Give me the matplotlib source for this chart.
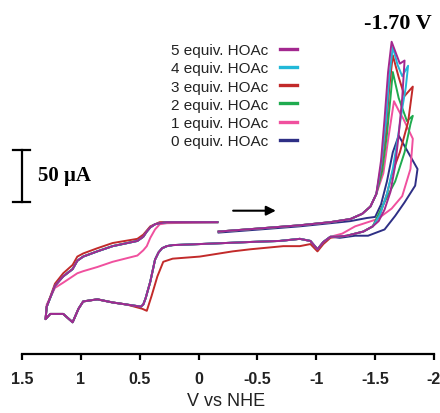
import matplotlib
matplotlib.use('Agg')
import matplotlib.pyplot as plt

plt.rcParams['font.family'] = ['Liberation Sans', 'DejaVu Sans']
plt.rcParams['axes.unicode_minus'] = False

# potential in V vs NHE, current in uA (arbitrary zero)
# shared parts of the scan
fwd_v = [-0.17, -0.52, -0.86, -1.12, -1.29, -1.39, -1.46, -1.51]
fwd_i = [12, 15, 18, 21, 24, 29, 36, 48]

ret_right_v = [-1.48, -1.40, -1.26, -1.18]
ret_right_i = [17, 12, 8, 7]

mid_v = [-1.12, -1.06, -1.01, -0.95, -0.86, -0.69, -0.44, -0.01, 0.22, 0.27, 0.31, 0.34, 0.37, 0.41, 0.45, 0.47, 0.49]
mid_i = [7, 2, -5, 3, 5, 3, 2, 0, -1, -2, -4, -8, -15, -36, -52, -58, -60]

left_v = [0.61, 0.73, 0.86, 0.98, 1.02, 1.07, 1.15, 1.26, 1.30]
left_i = [-58, -56, -53, -55, -62, -75, -67, -67, -72]

fin_v = [1.29, 1.22, 1.15, 1.07, 1.03, 0.98, 0.86, 0.73, 0.52, 0.47, 0.44, 0.41, 0.37, 0.33, 0.27, -0.16]
fin_i = [-60, -40, -31, -24, -16, -12, -7, -2, 3, 7, 12, 16, 19, 20, 21, 21]

# 5 equiv
peak5_v = [-1.55, -1.58, -1.61, -1.64, -1.68, -1.71, -1.75, -1.73, -1.70, -1.67, -1.63, -1.58, -1.53]
peak5_i = [80, 120, 165, 194, 182, 173, 176, 140, 105, 75, 50, 33, 22]
# 4 equiv
peak4_v = [-1.55, -1.59, -1.62, -1.65, -1.69, -1.73, -1.78, -1.76, -1.73, -1.69, -1.65, -1.60, -1.54]
peak4_i = [75, 115, 160, 189, 172, 161, 171, 150, 130, 100, 72, 48, 28]
# 3 equiv
peak3_v = [-1.55, -1.59, -1.62, -1.65, -1.70, -1.75, -1.82, -1.78, -1.71, -1.65, -1.60, -1.54]
peak3_i = [72, 108, 150, 181, 160, 142, 151, 117, 88, 70, 48, 28]
mid3_v = [-1.12, -1.06, -1.01, -0.95, -0.86, -0.72, -0.44, -0.29, -0.01, 0.22, 0.30, 0.35, 0.40, 0.44, 0.48]
mid3_i = [6, 0, -7, 0, -2, -2, -5, -7, -12, -14, -17, -31, -50, -64, -62]
fin3_i = [-60, -38, -28, -20, -12, -9, -4, 1, 5, 9, 13, 17, 19, 21, 21, 21]
# 2 equiv
peak2_v = [-1.56, -1.60, -1.63, -1.65, -1.70, -1.77, -1.82, -1.80, -1.75, -1.67, -1.56]
peak2_i = [70, 105, 140, 165, 140, 118, 123, 115, 88, 60, 36]
# 1 equiv
peak1_v = [-1.57, -1.61, -1.66, -1.70, -1.74, -1.82, -1.80, -1.73, -1.64, -1.52, -1.33, -1.22]
peak1_i = [68, 100, 137, 128, 120, 101, 72, 46, 34, 24, 17, 10]
fin1_i = [-58, -42, -37, -31, -28, -26, -22, -17, -11, -6, -2, 6, 14, 19, 20, 21]
# 0 equiv
fwd0_v = [-0.17, -0.52, -0.86, -1.12, -1.29, -1.43, -1.50]
fwd0_i = [11, 14, 17, 20, 22, 25, 26]
peak0_v = [-1.55, -1.60, -1.65, -1.70, -1.77, -1.86, -1.84, -1.75, -1.67, -1.58, -1.44, -1.33, -1.20]
peak0_i = [38, 60, 88, 104, 90, 72, 56, 40, 27, 14, 8, 8, 6]

labels = ['0 equiv. HOAc', '1 equiv. HOAc', '2 equiv. HOAc',
          '3 equiv. HOAc', '4 equiv. HOAc', '5 equiv. HOAc']
colors = ['#2e2f85', '#f0509e', '#1fab4f', '#c22a2a', '#22b8d8', '#a3288f']

curves = [
    (fwd0_v + peak0_v + mid_v + left_v + fin_v,
     fwd0_i + peak0_i + mid_i + left_i + fin_i),
    (fwd_v + peak1_v + mid_v + left_v + fin_v,
     fwd_i + peak1_i + mid_i + left_i + fin1_i),
    (fwd_v + peak2_v + ret_right_v + mid_v + left_v + fin_v,
     fwd_i + peak2_i + ret_right_i + mid_i + left_i + fin_i),
    (fwd_v + peak3_v + ret_right_v + mid3_v + left_v + fin_v,
     fwd_i + peak3_i + ret_right_i + mid3_i + left_i + fin3_i),
    (fwd_v + peak4_v + ret_right_v + mid_v + left_v + fin_v,
     fwd_i + peak4_i + ret_right_i + mid_i + left_i + fin_i),
    (fwd_v + peak5_v + ret_right_v + mid_v + left_v + fin_v,
     fwd_i + peak5_i + ret_right_i + mid_i + left_i + fin_i),
]

fig = plt.figure(figsize=(4.4, 4.14), dpi=100)
ax = fig.add_axes([0, 0, 1, 1])

lines = []
for (v, i), c, lab in zip(curves, colors, labels):
    ln, = ax.plot(v, i, color=c, lw=1.4, label=lab)
    lines.append(ln)

ax.set_xlim(1.687, -2.051)
ax.set_ylim(-162, 235)

for s in ['top', 'left', 'right']:
    ax.spines[s].set_visible(False)
ax.spines['bottom'].set_position(('data', -105.6))
ax.spines['bottom'].set_bounds(-2, 1.5)
ax.spines['bottom'].set_linewidth(1.6)
ax.set_yticks([])
ax.set_xticks([1.5, 1, 0.5, 0, -0.5, -1, -1.5, -2])
ax.set_xticklabels(['1.5', '1', '0.5', '0', '-0.5', '-1', '-1.5', '-2'],
                   fontweight='bold', fontsize=11.5, color='#222222')
ax.tick_params(axis='x', direction='out', length=4, width=1.6, pad=8)
ax.patch.set_visible(False)

fig.text(0.514, 0.029, 'V vs NHE', ha='center', va='center', fontsize=13, color='#222222')

# scale bar
ax.plot([1.50, 1.50], [40, 90], color='black', lw=1.6)
ax.plot([1.576, 1.432], [90, 90], color='black', lw=1.6)
ax.plot([1.576, 1.432], [40, 40], color='black', lw=1.6)
ax.text(1.364, 66, '50 μA', ha='left', va='center', fontsize=15,
        fontweight='bold', family='Liberation Serif')

ax.text(-1.695, 212, '-1.70 V', ha='center', va='center', fontsize=16,
        fontweight='bold', family='Liberation Serif')

ax.annotate('', xy=(-0.68, 32), xytext=(-0.27, 32),
            arrowprops=dict(arrowstyle='-|>', color='black', lw=1.5, mutation_scale=14))

leg = ax.legend(lines[::-1], labels[::-1], loc='upper right',
                bbox_to_anchor=(297 / 440, 1 - 44 / 414), bbox_transform=fig.transFigure,
                frameon=False, markerfirst=False, fontsize=11, handlelength=1.1,
                handletextpad=0.8, labelspacing=0.28, borderpad=0, borderaxespad=0)
for h in leg.legend_handles:
    h.set_linewidth(2.4)
for t in leg.get_texts():
    t.set_color('#222222')

fig.savefig('out.png', dpi=100)
